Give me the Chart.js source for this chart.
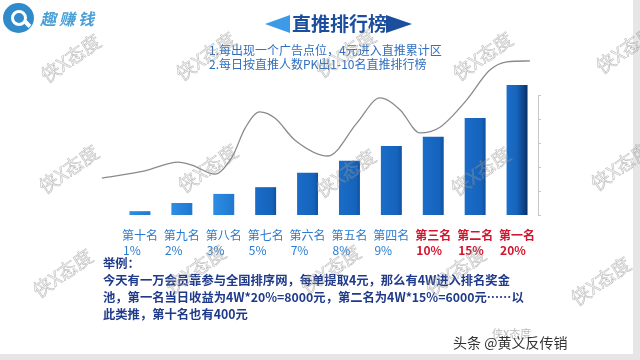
<!DOCTYPE html>
<html><head><meta charset="utf-8">
<script src="https://cdn.jsdelivr.net/npm/chart.js@4.4.1/dist/chart.umd.min.js"></script>
<style>
html,body{margin:0;padding:0;width:640px;height:360px;overflow:hidden;background:#e6e6e6;font-family:"Noto Sans CJK SC","Noto Sans",sans-serif;}
#slide{position:absolute;left:0;top:0;width:633px;height:354px;background:#fff;}
canvas{position:absolute;left:0;top:0;}
.abs{position:absolute;white-space:nowrap;}
#logo{left:3px;top:3px;width:31px;height:30px;border-radius:50%;background:#2f8bcb;}
#logo i{position:absolute;left:8px;top:7px;width:10px;height:10px;border:3px solid #fff;border-radius:50%;}
#logo b{position:absolute;left:21px;top:19px;width:7px;height:4px;background:#fff;transform:rotate(45deg);}
#brand{left:40px;top:6px;font-size:16px;font-weight:bold;color:#4aa0d6;letter-spacing:3px;font-style:italic;}
#title{left:292px;top:9px;font-size:19px;font-weight:bold;color:#1b4f9e;}
#triL{left:265px;top:15px;width:0;height:0;border-top:9px solid transparent;border-bottom:9px solid transparent;border-right:25px solid #3d9ae6;}
#triR{left:386px;top:15px;width:0;height:0;border-top:9px solid transparent;border-bottom:9px solid transparent;border-left:26px solid #1b4f9e;}
#sub{left:209px;top:43px;font-size:12px;line-height:14px;color:#2f6fbe;}
#ex{left:103px;top:255px;font-size:12.3px;line-height:17px;font-weight:bold;color:#1f3a8a;}
#foot{left:453px;top:332px;font-size:14px;color:#333;}
#foot2{left:492px;top:325px;font-size:11px;color:rgba(120,120,120,0.5);}
.wm{position:absolute;white-space:nowrap;font-size:19px;color:rgba(200,200,200,0.2);-webkit-text-stroke:0.5px rgba(130,130,130,0.55);transform:translate(-50%,-50%) rotate(-35deg);}
</style></head>
<body>
<div id="slide"></div>
<canvas id="c" width="640" height="360"></canvas>
<div id="logo" class="abs"><i></i><b></b></div>
<div id="brand" class="abs">趣赚钱</div>
<div id="triL" class="abs"></div>
<div id="title" class="abs">直推排行榜</div>
<div id="triR" class="abs"></div>
<div id="sub" class="abs">1.每出现一个广告点位，4元进入直推累计区<br>2.每日按直推人数PK出1-10名直推排行榜</div>
<div id="ex" class="abs">举例：<br>今天有一万会员靠参与全国排序网，每单提取4元，那么有4W进入排名奖金<br>池，第一名当日收益为4W*20%=8000元，第二名为4W*15%=6000元……以<br>此类推，第十名也有400元</div>
<div id="foot2" class="abs">侠X态度</div>
<div id="foot" class="abs">头条 @黄义反传销</div>
<div class="wm" style="left:70px;top:57px">侠X态度</div>
<div class="wm" style="left:205px;top:55px">侠X态度</div>
<div class="wm" style="left:345px;top:52px">侠X态度</div>
<div class="wm" style="left:482px;top:55px">侠X态度</div>
<div class="wm" style="left:625px;top:48px">侠X态度</div>
<div class="wm" style="left:68px;top:168px">侠X态度</div>
<div class="wm" style="left:207px;top:167px">侠X态度</div>
<div class="wm" style="left:345px;top:172px">侠X态度</div>
<div class="wm" style="left:480px;top:170px">侠X态度</div>
<div class="wm" style="left:620px;top:165px">侠X态度</div>
<div class="wm" style="left:62px;top:272px">侠X态度</div>
<div class="wm" style="left:195px;top:268px">侠X态度</div>
<div class="wm" style="left:330px;top:268px">侠X态度</div>
<div class="wm" style="left:455px;top:270px">侠X态度</div>
<div class="wm" style="left:600px;top:280px">侠X态度</div>
<script>
const categories = ['第十名','第九名','第八名','第七名','第六名','第五名','第四名','第三名','第二名','第一名'];
const shares = ['1%','2%','3%','5%','7%','8%','9%','10%','15%','20%'];
const barValues = [0.9, 2.6, 4.5, 5.9, 8.9, 11.4, 14.5, 16.4, 20.3, 27.2];
const curveX = [-0.91, 0.12, 0.91, 1.24, 1.79, 2.20, 2.51, 2.86, 3.22, 3.70, 4.49, 5.18, 5.73, 6.21, 6.68, 7.16, 7.80, 8.35, 8.76, 9.31];
const curveY = [7.8, 9.3, 11.1, 10.5, 8.6, 12.2, 18.2, 21.6, 20.3, 15.7, 12.4, 19.3, 24.5, 22.0, 17.2, 18.4, 24.1, 30.3, 32.0, 32.2];
const highlightFrom = 7;

const FAMILY = '"Noto Sans CJK SC", "Noto Sans", sans-serif';
Chart.defaults.font.family = FAMILY;

const mctx = document.createElement('canvas').getContext('2d');
function padShare(name, pct, weight) {
  mctx.font = weight + ' 12px ' + FAMILY;
  const wn = mctx.measureText(name).width;
  let s = pct;
  while (mctx.measureText(s + ' ').width <= wn) s += ' ';
  return s;
}

function barColor(ctx) {
  const chart = ctx.chart;
  const xs = chart.scales.x;
  const i = ctx.dataIndex;
  if (!xs || !chart.chartArea || i === undefined) return '#1767c2';
  const c = xs.getPixelForValue(i);
  const half = 10.5;
  const g = chart.ctx.createLinearGradient(c - half, 0, c + half, 0);
  if (i <= 2) { g.addColorStop(0, '#2d8ee2'); g.addColorStop(1, '#2078d0'); }
  else if (i === categories.length - 1) { g.addColorStop(0, '#1b6fca'); g.addColorStop(0.5, '#1663bb'); g.addColorStop(1, '#0a2f66'); }
  else { g.addColorStop(0, '#1a6dc8'); g.addColorStop(0.8, '#1563bb'); g.addColorStop(1, '#1050a0'); }
  return g;
}

new Chart(document.getElementById('c'), {
  type: 'bar',
  data: {
    labels: categories,
    datasets: [
      { type: 'line', data: curveX.map((x, i) => ({x: x, y: curveY[i]})), xAxisID: 'xl', yAxisID: 'y',
        borderColor: '#8a8a8a', borderWidth: 1.3, pointRadius: 0, cubicInterpolationMode: 'monotone', clip: false, order: 0 },
      { type: 'bar', data: barValues, xAxisID: 'x', yAxisID: 'y', backgroundColor: barColor, grouped: false,
        categoryPercentage: 1, barPercentage: 0.5, clip: false, order: 1 }
    ]
  },
  options: {
    responsive: false, animation: false, devicePixelRatio: 1,
    layout: { padding: { left: 119, top: 95.5, right: 96, bottom: 104.5 } },
    plugins: { legend: { display: false }, tooltip: { enabled: false }, title: { display: false } },
    scales: {
      x: {
        type: 'category', offset: true,
        grid: { display: false }, border: { display: false },
        afterFit(s) { s.height = 40; },
        ticks: {
          padding: 4, maxRotation: 0, autoSkip: false,
          color: (c) => c.index >= highlightFrom ? '#d2152e' : '#2b7bd0',
          font: (c) => ({ size: 12, weight: c.index >= highlightFrom ? 'bold' : 'normal', lineHeight: 1.3, family: FAMILY }),
          callback: (v, i) => [categories[i], padShare(categories[i], shares[i], i >= highlightFrom ? 'bold' : 'normal')]
        }
      },
      xl: { type: 'linear', display: false, min: -0.5, max: 9.5, offset: false, grid: { offset: false } },
      y: {
        position: 'right', min: 0, max: 25,
        ticks: { display: false, stepSize: 5 },
        grid: { display: true, drawOnChartArea: false, drawTicks: true, tickLength: 3, color: '#c9c9c9' },
        border: { display: true, color: '#c9c9c9' },
        afterFit(s) { s.width = 6; }
      }
    }
  }
});
</script>
</body></html>
